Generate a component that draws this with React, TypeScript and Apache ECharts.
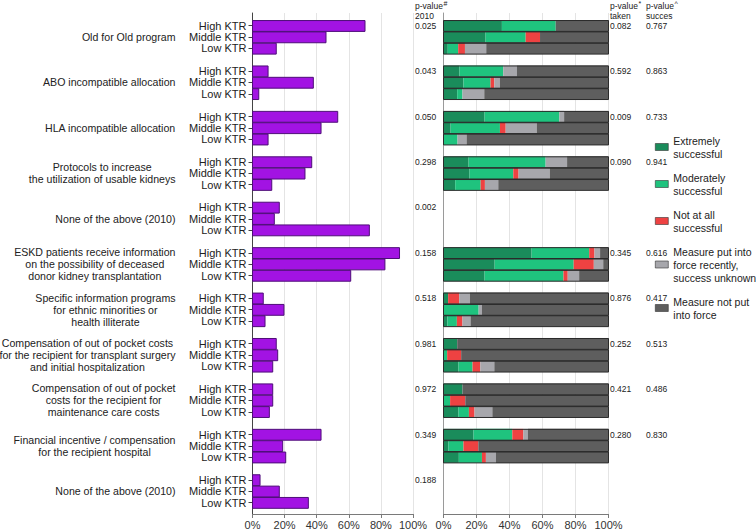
import React, { useEffect, useRef } from "react";
import * as echarts from "echarts";

// ---------- data ----------
const groupLabels = [
  "Old for Old program",
  "ABO incompatible allocation",
  "HLA incompatible allocation",
  "Protocols to increase\nthe utilization of usable kidneys",
  "None of the above (2010)",
  "ESKD patients receive information\non the possibility of deceased\ndonor kidney transplantation",
  "Specific information programs\nfor ethnic minorities or\nhealth illiterate",
  "Compensation of out of pocket costs\nfor the recipient for transplant surgery\nand initial hospitalization",
  "Compensation of out of pocket\ncosts for the recipient for\nmaintenance care costs",
  "Financial incentive / compensation\nfor the recipient hospital",
  "None of the above (2010)",
];
const levels = ["High KTR", "Middle KTR", "Low KTR"];

// left panel: share of centres (%), order High/Middle/Low per group
const share = [
  70.1, 45.8, 14.8,
  9.7, 37.9, 3.9,
  53.1, 42.7, 9.7,
  36.9, 32.7, 12.0,
  16.7, 13.6, 72.8,
  91.6, 82.5, 61.2,
  6.7, 19.6, 7.8,
  14.8, 15.7, 12.6,
  12.6, 12.6, 10.5,
  42.7, 18.8, 20.7,
  4.7, 16.7, 34.8,
];

// right panel: success categories (%)
const extremely = [
  35.4, 25.5, 2.6, 9.7, 12.1, 8.3, 24.9, 4.3, 0, 15.2, 15.8, 7.1, null, null, null,
  53.4, 31.0, 24.9, 2.8, 0, 2.4, 8.3, 0, 9.1, 11.5, 0, 9.1, 18.2, 3.0, 9.3, null, null, null,
];
const moderately = [
  32.6, 24.3, 6.3, 26.5, 16.4, 3.2, 45.3, 29.9, 8.5, 46.7, 26.5, 15.4, null, null, null,
  34.9, 47.9, 47.8, 0, 21.3, 5.7, 0, 2.2, 8.5, 0, 4.0, 6.3, 23.5, 9.1, 14.0, null, null, null,
];
const notAtAll = [
  0, 8.7, 4.1, 0, 2.3, 0, 0, 3.5, 0, 0, 3.2, 2.6, null, null, null,
  3.2, 12.2, 2.6, 6.7, 0, 3.4, 0, 8.5, 4.7, 0, 9.2, 3.4, 6.7, 9.0, 2.4, null, null, null,
];
const recent = [
  0, 0, 12.9, 8.3, 3.4, 13.2, 2.9, 18.8, 5.5, 13.0, 18.9, 8.1, null, null, null,
  3.4, 5.7, 6.9, 6.5, 2.0, 4.9, 0, 0, 8.5, 0, 0, 10.8, 2.8, 0, 6.1, null, null, null,
];
const notInForce = [
  32.0, 41.5, 74.1, 55.5, 65.8, 75.3, 26.9, 43.5, 86.0, 25.1, 35.6, 66.8, null, null, null,
  5.1, 3.2, 17.8, 84.0, 76.7, 83.6, 91.7, 89.3, 69.2, 88.5, 86.8, 70.4, 48.8, 78.9, 68.2, null, null, null,
];

const pValue2010 = ["0.025", "0.043", "0.050", "0.298", "0.002", "0.158", "0.518", "0.981", "0.972", "0.349", "0.188"];
const pValueTaken = ["0.082", "0.592", "0.009", "0.090", "", "0.345", "0.876", "0.252", "0.421", "0.280", ""];
const pValueSucces = ["0.767", "0.863", "0.733", "0.941", "", "0.616", "0.417", "0.513", "0.486", "0.830", ""];

const categories = [
  { name: "Extremely successful", label: "Extremely\nsuccessful", color: "#1A8C5B", values: extremely },
  { name: "Moderately successful", label: "Moderately\nsuccessful", color: "#1FC37E", values: moderately },
  { name: "Not at all successful", label: "Not at all\nsuccessful", color: "#EE4242", values: notAtAll },
  { name: "Measure put into force recently, success unknown", label: "Measure put into\nforce recently,\nsuccess unknown", color: "#A7A7AC", values: recent },
  { name: "Measure not put into force", label: "Measure not put\ninto force", color: "#5E5E5E", values: notInForce },
];

const FONT = "'Liberation Sans', Arial, Helvetica, sans-serif";
const GROUP_FS = 10.6;

const rowOf = (i: number) => Math.floor(i / 3) * 4 + (i % 3);

export default function App() {
  const ref = useRef<HTMLDivElement>(null);

  useEffect(() => {
    if (!ref.current) return;
    const chart = echarts.init(ref.current, undefined, { renderer: "svg" });

    // measure widest line of group labels to centre lines within a right-aligned block
    const canvas = document.createElement("canvas");
    const ctx = canvas.getContext("2d")!;
    ctx.font = GROUP_FS + "px " + FONT;
    const blockWidths = groupLabels.map((t) =>
      Math.max(...t.split("\n").map((l) => ctx.measureText(l).width))
    );

    const barRows = share.map((_, i) => rowOf(i));
    const leftData = share.map((v, i) => [v, rowOf(i)]);

    const segSeries = categories.map((c, ci) => {
      const data: any[] = [];
      c.values.forEach((v, i) => {
        if (v == null) return;
        let start = 0;
        for (let k = 0; k < ci; k++) start += (categories[k].values[i] as number) || 0;
        data.push([start, start + v, rowOf(i)]);
      });
      return {
        type: "custom",
        name: c.name,
        xAxisIndex: 1,
        yAxisIndex: 1,
        itemStyle: { color: c.color },
        encode: { x: [0, 1], y: 2 },
        data,
        renderItem: (params: any, api: any) => {
          const s = api.value(0);
          const e = api.value(1);
          const row = api.value(2);
          if (e - s <= 0) return null;
          const p0 = api.coord([s, row]);
          const p1 = api.coord([e, row]);
          const h = api.size([0, 1])[1];
          return {
            type: "rect",
            shape: { x: p0[0], y: p0[1] - h / 2, width: p1[0] - p0[0], height: h },
            style: { fill: c.color },
          };
        },
      };
    });

    const outlineData = extremely
      .map((v, i) => (v == null ? null : [0, 100, rowOf(i)]))
      .filter((d) => d) as number[][];

    const option: any = {
      animation: false,
      textStyle: { fontFamily: FONT },
      grid: [
        { left: 252.5, right: 756 - 413, top: 13, bottom: 16, containLabel: false, outerBoundsMode: "none" },
        { left: 443.5, right: 756 - 608.5, top: 13, bottom: 16, containLabel: false, outerBoundsMode: "none" },
      ],
      xAxis: [0, 1].map((gi) => ({
        type: "value",
        gridIndex: gi,
        min: 0,
        max: 100,
        interval: 20,
        axisLine: { show: true, onZero: false, lineStyle: { color: "#7a7a7a", width: 1 } },
        axisTick: { show: true, length: 4, lineStyle: { color: "#7a7a7a" } },
        axisLabel: { formatter: "{value}%", fontSize: 11, color: "#333", margin: 5, fontFamily: FONT },
        splitLine: { show: true, lineStyle: { color: "#e4e4e4", width: 1 } },
      })),
      yAxis: [
        {
          type: "value",
          gridIndex: 0,
          inverse: true,
          min: -1.12,
          max: 43,
          splitLine: { show: false },
          axisLine: { show: true, onZero: false, lineStyle: { color: "#444", width: 1 } },
          axisTick: { show: true, length: 4, customValues: barRows, lineStyle: { color: "#444" } },
          axisLabel: {
            show: true,
            customValues: barRows,
            fontSize: 11,
            color: "#222",
            margin: 6,
            fontFamily: FONT,
            formatter: (v: number) => levels[((Math.round(v) % 4) + 4) % 4] || "",
          },
        },
        {
          type: "value",
          gridIndex: 1,
          inverse: true,
          min: -1.12,
          max: 43,
          splitLine: { show: false },
          axisLine: { show: true, onZero: false, lineStyle: { color: "#9a9a9a", width: 1 } },
          axisTick: { show: false },
          axisLabel: { show: false },
        },
      ],
      legend: {
        orient: "vertical",
        left: 655,
        top: 134,
        padding: 0,
        itemWidth: 13,
        itemHeight: 7,
        itemGap: 11,
        icon: "rect",
        selectedMode: false,
        data: categories.map((c) => c.name),
        formatter: (name: string) => categories.find((c) => c.name === name)!.label,
        textStyle: { fontSize: 10.5, lineHeight: 13, color: "#222", fontFamily: FONT },
        itemStyle: { borderColor: "#333", borderWidth: 0.6 },
      },
      series: [
        {
          type: "custom",
          name: "share",
          xAxisIndex: 0,
          yAxisIndex: 0,
          encode: { x: 0, y: 1 },
          data: leftData,
          renderItem: (params: any, api: any) => {
            const v = api.value(0);
            const row = api.value(1);
            const p0 = api.coord([0, row]);
            const p1 = api.coord([v, row]);
            const h = api.size([0, 1])[1];
            return {
              type: "rect",
              shape: { x: p0[0], y: p0[1] - h / 2 + 0.5, width: p1[0] - p0[0], height: h - 0.5 },
              style: { fill: "#A213E3", stroke: "#4E0E78", lineWidth: 1 },
            };
          },
        },
        {
          type: "custom",
          name: "groupLabels",
          xAxisIndex: 0,
          yAxisIndex: 0,
          encode: { x: 0, y: 1 },
          clip: false,
          data: groupLabels.map((_, gi) => [0, gi * 4 + 1, gi]),
          renderItem: (params: any, api: any) => {
            const row = api.value(1);
            const gi = api.value(2);
            const p = api.coord([0, row]);
            const w = blockWidths[gi];
            return {
              type: "text",
              x: 175.5 - w / 2,
              y: p[1],
              style: {
                text: groupLabels[gi],
                fill: "#222",
                fontSize: GROUP_FS,
                fontFamily: FONT,
                lineHeight: 12,
                align: "center",
                verticalAlign: "middle",
              },
            };
          },
        },
        ...segSeries,
        {
          type: "custom",
          name: "outline",
          xAxisIndex: 1,
          yAxisIndex: 1,
          encode: { x: [0, 1], y: 2 },
          data: outlineData,
          renderItem: (params: any, api: any) => {
            const row = api.value(2);
            const p0 = api.coord([api.value(0), row]);
            const p1 = api.coord([api.value(1), row]);
            const h = api.size([0, 1])[1];
            return {
              type: "rect",
              shape: { x: p0[0], y: p0[1] - h / 2 + 0.5, width: p1[0] - p0[0], height: h - 0.5 },
              style: { fill: "none", stroke: "#2b2b2b", lineWidth: 1 },
            };
          },
        },
        {
          type: "custom",
          name: "pvalues",
          xAxisIndex: 1,
          yAxisIndex: 1,
          encode: { x: 0, y: 1 },
          clip: false,
          data: pValue2010.map((_, gi) => [0, gi * 4, gi]),
          renderItem: (params: any, api: any) => {
            const row = api.value(1);
            const gi = api.value(2);
            const p0 = api.coord([0, row]);
            const p1 = api.coord([100, row]);
            const st = (text: string) => ({
              text,
              fill: "#222",
              fontSize: 8.5,
              fontFamily: FONT,
              align: "left",
              verticalAlign: "middle",
            });
            return {
              type: "group",
              children: [
                { type: "text", x: p0[0] - 28.5, y: p0[1], style: st(pValue2010[gi]) },
                { type: "text", x: p1[0] + 1.5, y: p0[1], style: st(pValueTaken[gi]) },
                { type: "text", x: p1[0] + 37.5, y: p0[1], style: st(pValueSucces[gi]) },
              ],
            };
          },
        },
      ],
      graphic: [
        ...[
          { x: 415, t: "p-value", sup: "#", sub: "2010" },
          { x: 610, t: "p-value", sup: "*", sub: "taken" },
          { x: 646, t: "p-value", sup: "^", sub: "succes" },
        ].flatMap((h) => [
          { type: "text", x: h.x, y: 6, style: { text: h.t, fill: "#222", fontSize: 8.5, fontFamily: FONT, verticalAlign: "middle" } },
          { type: "text", x: h.x + 28.5, y: 3, style: { text: h.sup, fill: "#222", fontSize: 7, fontFamily: FONT, verticalAlign: "middle" } },
          { type: "text", x: h.x, y: 15.5, style: { text: h.sub, fill: "#222", fontSize: 8.5, fontFamily: FONT, verticalAlign: "middle" } },
        ]),
      ],
    };

    chart.setOption(option);
    return () => chart.dispose();
  }, []);

  return (
    <div
      ref={ref}
      style={{ position: "absolute", left: 0, top: 0, width: 756, height: 530, background: "#fff" }}
    />
  );
}
